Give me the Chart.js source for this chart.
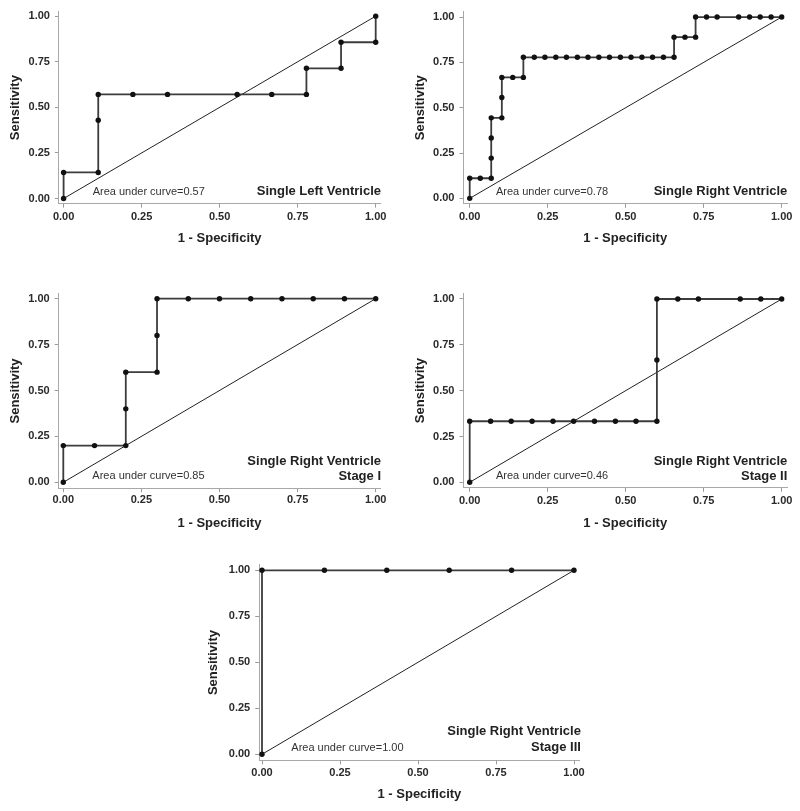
<!DOCTYPE html>
<html><head><meta charset="utf-8">
<script src="https://cdn.jsdelivr.net/npm/chart.js@4.4.1/dist/chart.umd.min.js"></script>
<style>
html,body{margin:0;padding:0;background:#fff;}
#wrap{position:relative;width:800px;height:811px;overflow:hidden;background:#fff;}
canvas{position:absolute;}
</style></head><body><div id="wrap"></div>
<script>
// ---------- data ----------
const tickValues = [0, 0.25, 0.5, 0.75, 1];
const tickLabels = ['0.00', '0.25', '0.50', '0.75', '1.00'];
const xAxisTitle = '1 - Specificity';
const yAxisTitle = 'Sensitivity';
const refX = [0, 1];
const refY = [0, 1];

// Single Left Ventricle
const slvX = [0, 0, 0.111, 0.111, 0.111, 0.222, 0.333, 0.556, 0.667, 0.778, 0.778, 0.889, 0.889, 1, 1];
const slvY = [0, 0.143, 0.143, 0.429, 0.571, 0.571, 0.571, 0.571, 0.571, 0.571, 0.714, 0.714, 0.857, 0.857, 1];

// Single Right Ventricle
const srvX = [0, 0, 0.034, 0.069, 0.069, 0.069, 0.069, 0.103, 0.103, 0.103, 0.138, 0.172, 0.172,
  0.207, 0.241, 0.276, 0.310, 0.345, 0.379, 0.414, 0.448, 0.483, 0.517, 0.552, 0.586, 0.621, 0.655,
  0.655, 0.690, 0.724, 0.724, 0.759, 0.793, 0.862, 0.897, 0.931, 0.966, 1];
const srvY = [0, 0.111, 0.111, 0.111, 0.222, 0.333, 0.444, 0.444, 0.556, 0.667, 0.667, 0.667, 0.778,
  0.778, 0.778, 0.778, 0.778, 0.778, 0.778, 0.778, 0.778, 0.778, 0.778, 0.778, 0.778, 0.778, 0.778,
  0.889, 0.889, 0.889, 1, 1, 1, 1, 1, 1, 1, 1];

// Single Right Ventricle Stage I
const srv1X = [0, 0, 0.1, 0.2, 0.2, 0.2, 0.3, 0.3, 0.3, 0.4, 0.5, 0.6, 0.7, 0.8, 0.9, 1];
const srv1Y = [0, 0.2, 0.2, 0.2, 0.4, 0.6, 0.6, 0.8, 1, 1, 1, 1, 1, 1, 1, 1];

// Single Right Ventricle Stage II
const srv2X = [0, 0, 0.067, 0.133, 0.2, 0.267, 0.333, 0.4, 0.467, 0.533, 0.6, 0.6, 0.6, 0.667, 0.733, 0.867, 0.933, 1];
const srv2Y = [0, 0.333, 0.333, 0.333, 0.333, 0.333, 0.333, 0.333, 0.333, 0.333, 0.333, 0.667, 1, 1, 1, 1, 1, 1];

// Single Right Ventricle Stage III
const srv3X = [0, 0, 0.2, 0.4, 0.6, 0.8, 1];
const srv3Y = [0, 1, 1, 1, 1, 1, 1];

const aucLabels = ['Area under curve=0.57', 'Area under curve=0.78', 'Area under curve=0.85',
  'Area under curve=0.46', 'Area under curve=1.00'];
const panelTitles = [
  ['Single Left Ventricle'],
  ['Single Right Ventricle'],
  ['Single Right Ventricle', 'Stage I'],
  ['Single Right Ventricle', 'Stage II'],
  ['Single Right Ventricle', 'Stage III']
];
const seriesX = [slvX, srvX, srv1X, srv2X, srv3X];
const seriesY = [slvY, srvY, srv1Y, srv2Y, srv3Y];

// ---------- layout (page pixels) ----------
const layouts = [
  {left:0, top:0, w:400, h:255, x0:63.6, x1:375.7, y1:14.7, y0:198.5, mxL:0.015, mxR:0.015, myT:0.025, myB:0.028,
   yTitleX:15, xTickY:216.7, xTitleY:238.3, aucX:0.093, aucY:0.038, titleX:1.017, titleY:[0.038]},
  {left:400, top:0, w:400, h:255, x0:469.7, x1:781.7, y1:14.7, y0:198.3, mxL:0.02, mxR:0.017, myT:0.03, myB:0.03,
   yTitleX:420, xTickY:216.7, xTitleY:238.3, aucX:0.084, aucY:0.036, titleX:1.018, titleY:[0.036]},
  {left:0, top:275, w:400, h:260, x0:63.3, x1:375.7, y1:298.7, y0:482.3, mxL:0.015, mxR:0.015, myT:0.027, myB:0.032,
   yTitleX:15, xTickY:500, xTitleY:523.3, aucX:0.093, aucY:0.034, titleX:1.017, titleY:[0.112, 0.030]},
  {left:400, top:275, w:400, h:260, x0:469.7, x1:781.7, y1:299, y0:482.3, mxL:0.02, mxR:0.017, myT:0.03, myB:0.03,
   yTitleX:420, xTickY:500.7, xTitleY:523.3, aucX:0.084, aucY:0.034, titleX:1.018, titleY:[0.112, 0.030]},
  {left:200, top:550, w:400, h:261, x0:262, x1:574, y1:570.3, y0:754.3, mxL:0.009, mxR:0.018, myT:0.03, myB:0.033,
   yTitleX:213.3, xTickY:773, xTitleY:794, aucX:0.094, aucY:0.036, titleX:1.022, titleY:[0.123, 0.036]}
];

const FONT = '"Liberation Sans", Arial, Helvetica, sans-serif';
const textPlugin = {
  id: 'rocText',
  afterDatasetsDraw(chart, args, opts) {
    const {ctx} = chart;
    const x = chart.scales.x, y = chart.scales.y;
    ctx.save();
    ctx.fillStyle = '#333';
    ctx.font = '11px ' + FONT;
    ctx.textAlign = 'left';
    ctx.textBaseline = 'middle';
    ctx.fillText(opts.auc, x.getPixelForValue(opts.aucX), y.getPixelForValue(opts.aucY));
    ctx.font = 'bold 13px ' + FONT;
    ctx.fillStyle = '#222';
    ctx.textAlign = 'right';
    opts.title.forEach((t, i) => ctx.fillText(t, x.getPixelForValue(opts.titleX), y.getPixelForValue(opts.titleY[i])));
    ctx.restore();
  }
};

const wrap = document.getElementById('wrap');
layouts.forEach((L, i) => {
  const cv = document.createElement('canvas');
  cv.width = L.w; cv.height = L.h;
  cv.style.left = L.left + 'px'; cv.style.top = L.top + 'px';
  cv.style.width = L.w + 'px'; cv.style.height = L.h + 'px';
  wrap.appendChild(cv);

  const ux = L.x1 - L.x0, uy = L.y0 - L.y1;
  const areaL = L.x0 - L.left - L.mxL * ux;
  const areaR = L.x1 - L.left + L.mxR * ux;
  const areaT = L.y1 - L.top - L.myT * uy;
  const areaB = L.y0 - L.top + L.myB * uy;
  const titleHalf = 13 * 1.2 / 2;
  const padL = L.yTitleX - L.left - titleHalf;
  const scaleBottom = L.xTitleY - L.top + titleHalf;
  const padB = L.h - scaleBottom;
  const tickLen = 4;
  const xTickPad = L.xTickY - L.top - areaB - tickLen - 11 * 1.2 / 2;

  const pts = seriesX[i].map((v, k) => ({x: v, y: seriesY[i][k]}));
  const ref = refX.map((v, k) => ({x: v, y: refY[k]}));

  const axisCommon = {
    type: 'linear',
    grid: {display: true, drawOnChartArea: false, drawTicks: true, tickLength: tickLen, color: '#9a9a9a', lineWidth: 1},
    border: {display: true, color: '#a8a8a8', width: 1},
    afterBuildTicks: (s) => { s.ticks = tickValues.map(v => ({value: v})); },
  };

  new Chart(cv, {
    type: 'scatter',
    data: {
      datasets: [
        {data: pts, showLine: true, borderColor: '#3c3c3c', borderWidth: 1.8, pointRadius: 2.7,
         pointBackgroundColor: '#111', pointBorderWidth: 0, pointHoverRadius: 2.7, clip: false, order: 1},
        {data: ref, showLine: true, borderColor: '#222', borderWidth: 1, pointRadius: 0, clip: false, order: 2}
      ]
    },
    options: {
      responsive: false,
      animation: false,
      devicePixelRatio: 1,
      events: [],
      layout: {padding: {left: padL, top: areaT, right: L.w - areaR, bottom: padB}},
      plugins: {
        legend: {display: false},
        tooltip: {enabled: false},
        rocText: {auc: aucLabels[i], aucX: L.aucX, aucY: L.aucY, title: panelTitles[i], titleX: L.titleX, titleY: L.titleY}
      },
      scales: {
        x: Object.assign({}, axisCommon, {
          position: 'bottom',
          min: -L.mxL, max: 1 + L.mxR,
          ticks: {padding: xTickPad, color: '#2a2a2a', font: {family: FONT, size: 11, weight: 'bold'},
                  maxRotation: 0, autoSkip: false,
                  callback: (v) => tickLabels[tickValues.indexOf(v)]},
          title: {display: true, text: xAxisTitle, color: '#222', padding: 0,
                  font: {family: FONT, size: 13, weight: 'bold', lineHeight: 1.2}},
          afterFit: (s) => { s.height = scaleBottom - areaB; }
        }),
        y: Object.assign({}, axisCommon, {
          position: 'left',
          min: -L.myB, max: 1 + L.myT,
          ticks: {padding: 5, color: '#2a2a2a', font: {family: FONT, size: 11, weight: 'bold'},
                  autoSkip: false,
                  callback: (v) => tickLabels[tickValues.indexOf(v)]},
          title: {display: true, text: yAxisTitle, color: '#222', padding: 0,
                  font: {family: FONT, size: 13, weight: 'bold', lineHeight: 1.2}},
          afterFit: (s) => { s.width = areaL - padL; }
        })
      }
    },
    plugins: [textPlugin]
  });
});
</script>
</body></html>
